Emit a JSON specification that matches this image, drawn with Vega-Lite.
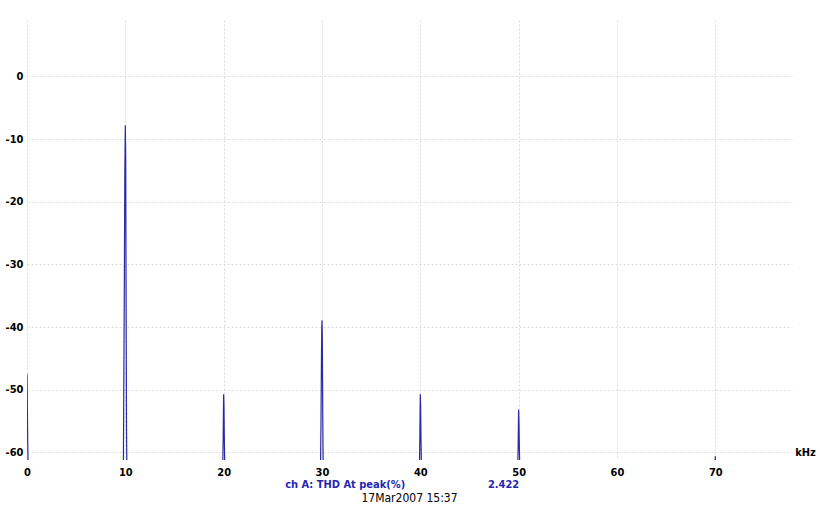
{
  "$schema": "https://vega.github.io/schema/vega-lite/v6.json",
  "width": 765,
  "height": 440,
  "autosize": {"type": "none"},
  "padding": {"left": 27, "top": 20, "right": 28, "bottom": 49},
  "background": "white",
  "config": {
    "view": {"stroke": null},
    "font": "DejaVu Sans Condensed, Liberation Sans Narrow, sans-serif"
  },
  "title": {
    "text": "ch A: THD At peak(%)\u00a0\u00a0\u00a0\u00a0\u00a0\u00a0\u00a0\u00a0\u00a0\u00a0\u00a0\u00a0\u00a0\u00a0\u00a0\u00a0\u00a0\u00a0\u00a0\u00a0\u00a0\u00a0\u00a0\u00a02.422\u00a0\u00a0\u2800",
    "subtitle": "17Mar2007  15:37",
    "orient": "bottom",
    "anchor": "middle",
    "frame": "group",
    "dx": 0,
    "offset": 2,
    "fontSize": 11,
    "fontWeight": "bold",
    "color": "#2626b0",
    "subtitleColor": "#000000",
    "subtitleFontSize": 12,
    "subtitleFontWeight": "normal",
    "subtitlePadding": 3
  },
  "data": {
    "values": [
      {"f": 0.0, "db": -47.5}, {"f": 0.03, "db": -52}, {"f": 0.07, "db": -58}, {"f": 0.12, "db": -63},
      {"f": 9.8, "db": -63}, {"f": 9.85, "db": -48}, {"f": 9.9, "db": -33}, {"f": 9.95, "db": -15}, {"f": 10.0, "db": -7.8}, {"f": 10.04, "db": -13}, {"f": 10.08, "db": -36}, {"f": 10.12, "db": -56}, {"f": 10.16, "db": -63},
      {"f": 19.9, "db": -63}, {"f": 19.95, "db": -58}, {"f": 19.98, "db": -53}, {"f": 20.0, "db": -50.7}, {"f": 20.03, "db": -52.5}, {"f": 20.07, "db": -58}, {"f": 20.12, "db": -63},
      {"f": 29.85, "db": -63}, {"f": 29.9, "db": -55}, {"f": 29.95, "db": -44}, {"f": 29.98, "db": -40}, {"f": 30.0, "db": -38.9}, {"f": 30.03, "db": -41}, {"f": 30.07, "db": -52}, {"f": 30.12, "db": -63},
      {"f": 39.9, "db": -63}, {"f": 39.95, "db": -58}, {"f": 39.98, "db": -53}, {"f": 40.0, "db": -50.7}, {"f": 40.03, "db": -52.5}, {"f": 40.07, "db": -58}, {"f": 40.12, "db": -63},
      {"f": 49.9, "db": -63}, {"f": 49.95, "db": -59}, {"f": 49.98, "db": -55}, {"f": 50.0, "db": -53.2}, {"f": 50.03, "db": -55}, {"f": 50.07, "db": -59}, {"f": 50.12, "db": -63},
      {"f": 69.95, "db": -63}, {"f": 70.0, "db": -60.6}, {"f": 70.05, "db": -63},
      {"f": 77.8, "db": -63}
    ]
  },
  "mark": {"type": "line", "color": "#2a2aa6", "strokeWidth": 1.2, "clip": true, "interpolate": "linear"},
  "encoding": {
    "x": {
      "field": "f",
      "type": "quantitative",
      "scale": {"domain": [0, 77.8], "nice": false, "zero": false},
      "axis": {
        "values": [0, 10, 20, 30, 40, 50, 60, 70],
        "domain": false,
        "ticks": false,
        "labelPadding": 6,
        "labelFontSize": 11,
        "labelFontWeight": "bold",
        "labelColor": "#000000",
        "labelFlush": false,
        "grid": true,
        "gridColor": "#dcdcdc",
        "gridDash": [2, 2],
        "gridWidth": 1,
        "title": "kHz",
        "titleX": 778,
        "titleY": -8,
        "titleAlign": "center",
        "titleBaseline": "middle",
        "titleFontSize": 11,
        "titleFontWeight": "bold",
        "titleColor": "#000000"
      }
    },
    "y": {
      "field": "db",
      "type": "quantitative",
      "scale": {"domain": [-61.2, 9], "nice": false, "zero": false},
      "axis": {
        "values": [0, -10, -20, -30, -40, -50, -60],
        "labelExpr": "datum.value == 0 ? '0' : '-' + abs(datum.value)",
        "domain": false,
        "ticks": false,
        "labelPadding": 4,
        "labelFontSize": 11,
        "labelFontWeight": "bold",
        "labelColor": "#000000",
        "grid": true,
        "gridColor": "#dcdcdc",
        "gridDash": [2, 2],
        "gridWidth": 1,
        "title": null
      }
    }
  }
}
